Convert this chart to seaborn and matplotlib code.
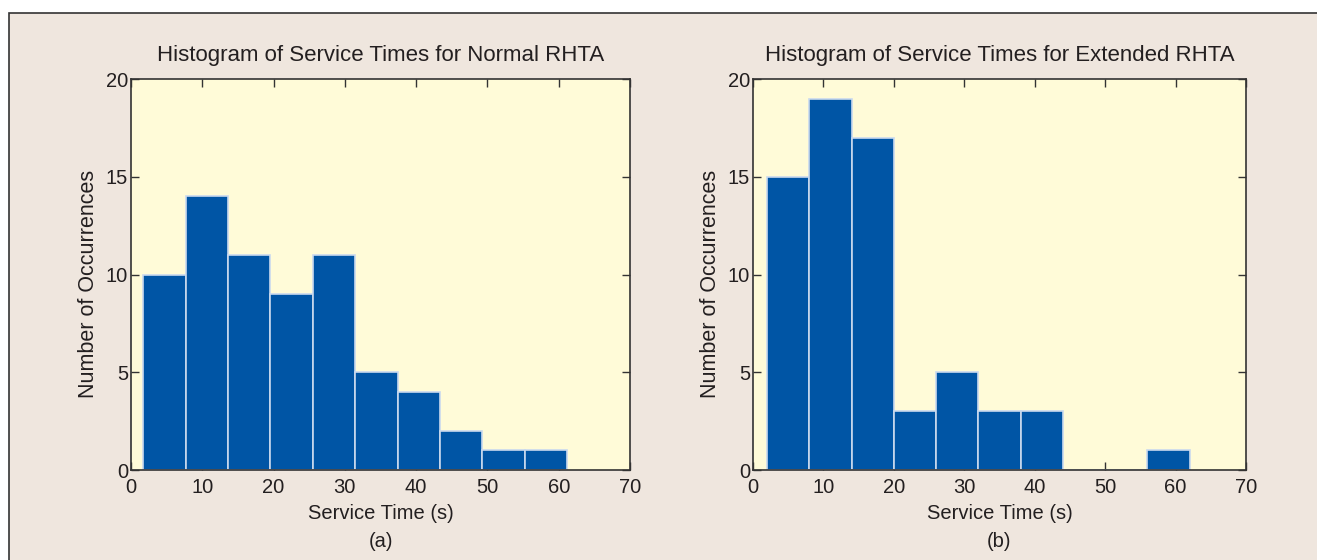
import numpy as np
import matplotlib
matplotlib.use("Agg")
import matplotlib.pyplot as plt
from matplotlib.patches import Rectangle
import seaborn as sns

# --- data ---
# (a) normal RHTA: bin edges and counts
normal_edges = [1.7, 7.65, 13.6, 19.55, 25.5, 31.45, 37.4, 43.35, 49.3, 55.25, 61.2]
normal_counts = [10, 14, 11, 9, 11, 5, 4, 2, 1, 1]
# (b) extended RHTA
extended_edges = [2.0, 8.0, 14.0, 20.0, 26.0, 32.0, 38.0, 44.0, 50.0, 56.0, 62.0]
extended_counts = [15, 19, 17, 3, 5, 3, 3, 0, 0, 1]

titles = ["Histogram of Service Times for Normal RHTA",
          "Histogram of Service Times for Extended RHTA"]
panel_labels = ["(a)", "(b)"]
x_ticks = [0, 10, 20, 30, 40, 50, 60, 70]
y_ticks = [0, 5, 10, 15, 20]

# --- style ---
sns.set_style("white")
plt.rcParams['font.family'] = ['Liberation Sans', 'DejaVu Sans']

bg = "#EFE6DE"
face = "#FFFBD8"
bar_color = "#0055A5"
text_color = "#231F20"

fig = plt.figure(figsize=(13.17, 5.6), dpi=100, facecolor="white")
# beige panel with a thin frame (top and left edges visible)
fig.patches.append(Rectangle((9 / 1317, -0.01), 1.0, 1 - 13 / 560 + 0.01,
                             transform=fig.transFigure, facecolor=bg,
                             edgecolor="#333333", linewidth=1.2, zorder=-10))

positions = [[131 / 1317, 1 - 470 / 560, (630 - 131) / 1317, (470 - 79) / 560],
             [753 / 1317, 1 - 470 / 560, (1246 - 753) / 1317, (470 - 79) / 560]]

for i, (edges, counts) in enumerate([(normal_edges, normal_counts),
                                     (extended_edges, extended_counts)]):
    ax = fig.add_axes(positions[i])
    ax.set_facecolor(face)
    centers = [(edges[k] + edges[k + 1]) / 2 for k in range(len(counts))]
    sns.histplot(x=centers, weights=counts, bins=edges, ax=ax,
                 color=bar_color, edgecolor="#C9D9EE", linewidth=1.2, alpha=1)

    ax.set_xlim(0, 70)
    ax.set_ylim(0, 20)
    ax.set_xticks(x_ticks)
    ax.set_yticks(y_ticks)
    ax.tick_params(direction="in", length=6, width=1, colors="#333333",
                   labelcolor=text_color, labelsize=14.5, top=True, right=True,
                   bottom=True, left=True)
    ax.tick_params(axis="x", pad=6)
    ax.tick_params(axis="y", pad=2)
    for s in ax.spines.values():
        s.set_color("#333333")
        s.set_linewidth(1.2)

    ax.set_title(titles[i], fontsize=16, color=text_color, pad=13)
    ax.set_xlabel("Service Time (s)", fontsize=14.5, color=text_color, labelpad=5)
    ax.set_ylabel("Number of Occurrences", fontsize=15.5, color=text_color)
    ax.yaxis.set_label_coords(-0.064, 0.476)
    ax.text(0.5, -0.158, panel_labels[i], transform=ax.transAxes, ha="center",
            va="top", fontsize=14.5, color=text_color)

fig.savefig("out.png", dpi=100, facecolor="white")
